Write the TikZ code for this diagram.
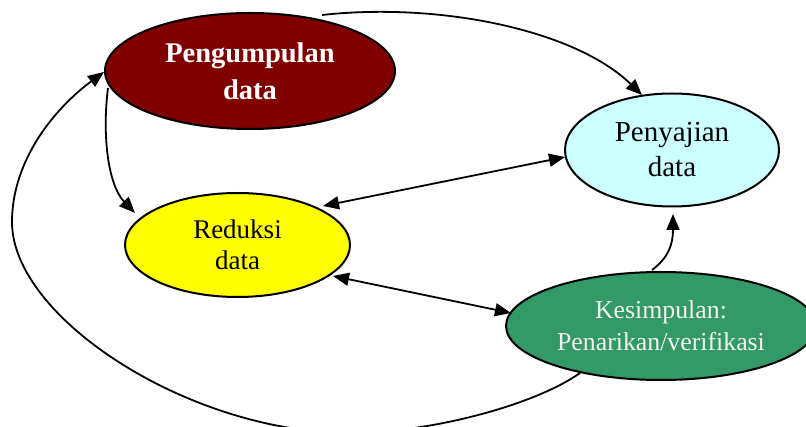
\documentclass[tikz,border=0pt]{standalone}
\usepackage{fontspec}
\setmainfont{Liberation Serif}
\usetikzlibrary{shapes.geometric,arrows.meta,calc}
\definecolor{maroonP}{HTML}{800000}
\definecolor{cyanS}{HTML}{CCFFFF}
\definecolor{yellowR}{HTML}{FFFF00}
\definecolor{greenK}{HTML}{339966}
\begin{document}
\begin{tikzpicture}[x=1pt,y=-1pt,
  elbox/.style={ellipse,draw=black,line width=2pt,inner sep=0pt,align=center},
  conn/.style={line width=1.8pt,-{Triangle[length=16pt,width=13pt]}},
  bconn/.style={line width=1.8pt,{Triangle[length=16pt,width=13pt]}-{Triangle[length=16pt,width=13pt]}}]
\useasboundingbox (0,0) rectangle (806,427);
\node[elbox,fill=maroonP,text=white,minimum width=290pt,minimum height=116pt,
  font=\fontsize{28.5}{37}\selectfont\bfseries] (P) at (250,71) {Pengumpulan\\data};
\node[elbox,fill=cyanS,minimum width=214pt,minimum height=113pt,
  font=\fontsize{29}{35}\selectfont] (S) at (672,150) {Penyajian\\data};
\node[elbox,fill=yellowR,minimum width=225pt,minimum height=104pt,
  font=\fontsize{27}{31}\selectfont] (R) at (237.5,245) {Reduksi\\data};
\node[elbox,fill=greenK,text=white!95!black,minimum width=310pt,minimum height=108pt,
  font=\fontsize{25.8}{32}\selectfont] (K) at (661,326) {Kesimpulan:\\Penarikan/verifikasi};
% connectors
\draw[conn] ($(P.center)+(72,-56)$) .. controls +(118,-13) and +(-67,-65) .. ($(S.center)+(-30,-55)$);
\draw[conn] ($(P.center)+(-142,17)$) .. controls +(-6,47) and +(-27,-28) .. ($(R.center)+(-102.5,-32)$);
\draw[bconn] ($(R.center)+(85.5,-39)$) -- ($(S.center)+(-107,7)$);
\draw[bconn] ($(R.center)+(95.5,31)$) -- ($(K.center)+(-150,-13)$);
\draw[conn] ($(K.center)+(-9,-56)$) .. controls +(16,-12) and +(0,31) .. ($(S.center)+(1,64)$);
\draw[conn] ($(K.center)+(-81,47)$) .. controls (535,405) and (430,433) .. (350,433)
  .. controls (190,433) and (12,318) .. (12,222)
  .. controls (12,160) and (55,108) .. ($(P.center)+(-146,1)$);
\end{tikzpicture}
\end{document}
